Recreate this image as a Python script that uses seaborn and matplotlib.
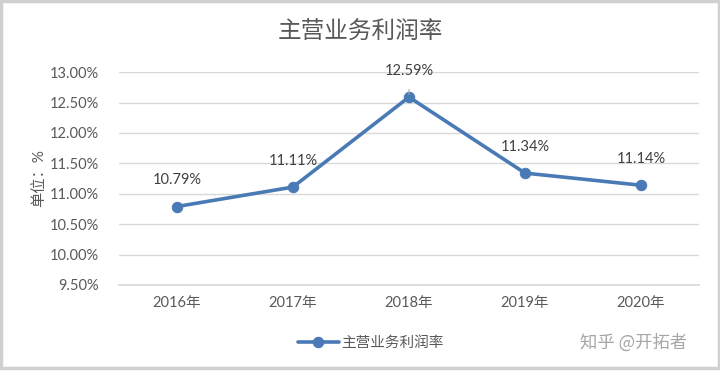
import matplotlib
matplotlib.use("Agg")
import matplotlib.pyplot as plt
import seaborn as sns
import pandas as pd
from matplotlib.patches import Rectangle

years = ["2016年", "2017年", "2018年", "2019年", "2020年"]
margin = [10.79, 11.11, 12.59, 11.34, 11.14]
yticks = [9.5, 10.0, 10.5, 11.0, 11.5, 12.0, 12.5, 13.0]

sns.set_theme(style="white")
plt.rcParams['font.family'] = ['Lato', 'Noto Sans CJK SC', 'DejaVu Sans']

df = pd.DataFrame({"year": years, "rate": margin})

fig = plt.figure(figsize=(7.2, 3.72), dpi=100)
ax = fig.add_axes([0.165, 0.234, 0.806, 0.572])

line_c = "#4a7ab5"
sns.lineplot(data=df, x="year", y="rate", ax=ax, color=line_c, lw=2.6,
             marker="o", markersize=7.5, markeredgecolor=line_c, sort=False,
             label="主营业务利润率")

ax.set_xlim(-0.5, len(years) - 0.5)
ax.set_ylim(9.5, 13.0)
ax.set_yticks(yticks)
ax.set_yticklabels([f"{v:.2f}%" for v in yticks], fontsize=10.5, color="#595959")
ax.tick_params(axis="x", labelsize=10.5, colors="#595959", pad=8, length=0)
ax.tick_params(axis="y", pad=14, length=0)
ax.grid(axis="y", color="#d9d9d9", lw=1)
for s in ["top", "right", "left"]:
    ax.spines[s].set_visible(False)
ax.spines["bottom"].set_color("#d9d9d9")
ax.set_xlabel("")
ax.set_ylabel("单位：%", fontsize=11, color="#595959")
ax.yaxis.set_label_coords(-0.125, 0.5)

for i, v in enumerate(margin):
    ax.annotate(f"{v:.2f}%", (i, v), xytext=(0, 14), textcoords="offset points",
                ha="center", va="bottom", fontsize=10.5, color="#404040")
# leader line for 2018 label
ax.annotate("", (2, margin[2]), xytext=(2, margin[2] + 0.17),
            arrowprops=dict(arrowstyle="-", color="#a6a6a6", lw=0.8))

fig.text(0.5, 0.912, "主营业务利润率", ha="center", va="center", fontsize=17,
         color="#595959", family=['Noto Sans CJK SC'])

ax.legend(loc="center", bbox_to_anchor=(0.515, 0.078), bbox_transform=fig.transFigure,
          frameon=False, fontsize=10.5, labelcolor="#595959", handlelength=2.8,
          handletextpad=0.2)

fig.text(0.88, 0.078, "知乎 @开拓者", ha="center", va="center", fontsize=12.5,
         color="#a6a6a6", family=['Noto Sans CJK SC'])

fig.patches.append(Rectangle((0.002, 0.012), 0.996, 0.984, transform=fig.transFigure,
                             fill=False, edgecolor="#d0d0d0", lw=2.5))

fig.savefig("out.png", dpi=100)
